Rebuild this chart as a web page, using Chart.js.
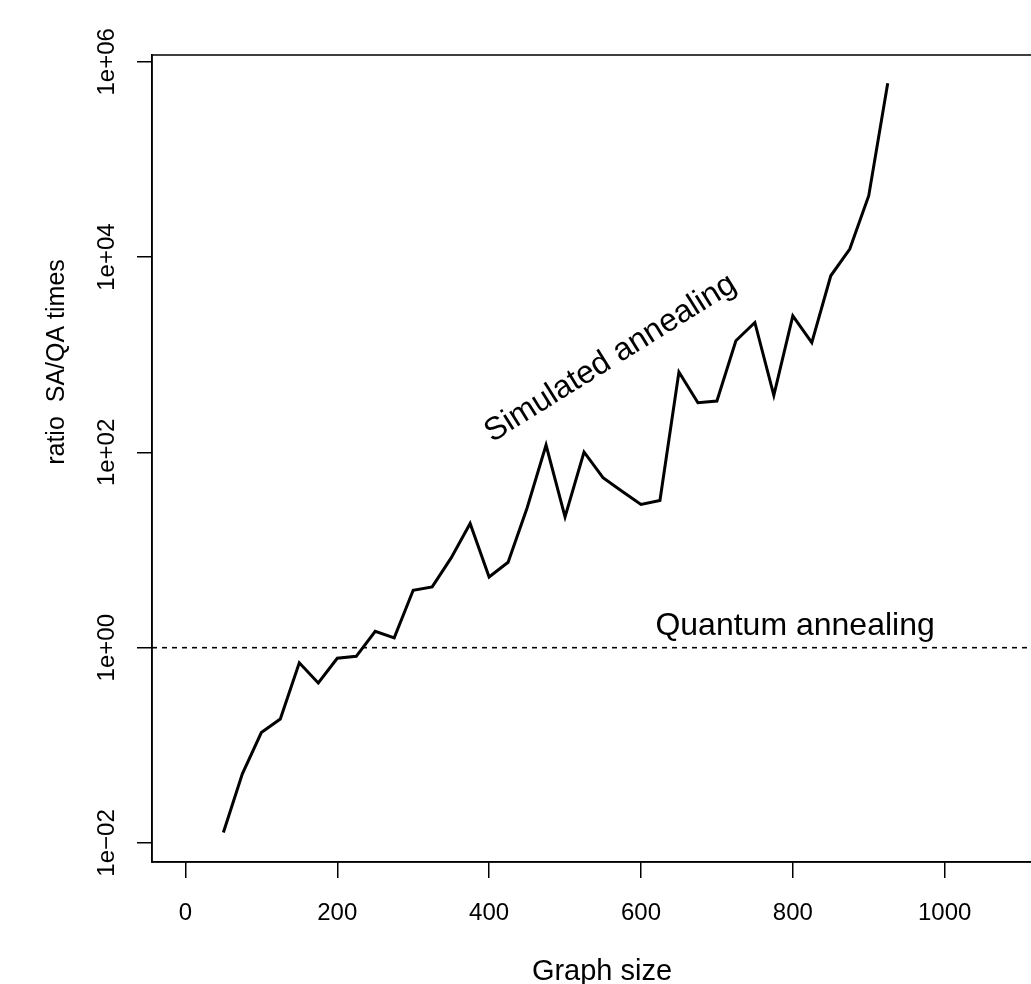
<!DOCTYPE html>
<html>
<head>
<meta charset="utf-8">
<script src="https://cdn.jsdelivr.net/npm/chart.js@4"></script>
<style>
    html, body { margin: 0; padding: 0; background: #fff; overflow: hidden; }
    #wrap { width: 1070px; height: 984px; }
</style>
</head>
<body>
<div id="wrap"><canvas id="ratioChart" width="1070" height="984"></canvas></div>
<script>
// graph size (x) and SA/QA time ratio (y)
const graphSize = [50, 75, 100, 125, 150, 175, 200, 225, 250, 275, 300, 325,
    350, 375, 400, 425, 450, 475, 500, 525, 550, 575, 600, 625,
    650, 675, 700, 725, 750, 775, 800, 825, 850, 875, 900, 925]
const saQaRatio = [0.0128, 0.051, 0.135, 0.186, 0.70, 0.435, 0.78, 0.815, 1.47, 1.26, 3.87, 4.19,
    8.3, 18.7, 5.3, 7.5, 27, 119, 21.9, 101, 55, 40, 29.3, 32.2,
    666, 323, 336, 1390, 2140, 384, 2500, 1334, 6440, 12080, 42600, 604000]

// quantum annealing reference level
const qaLevelX = [-44, 1144]
const qaLevelY = [1, 1]

const xTicks = [0, 200, 400, 600, 800, 1000]
const yTicks = [1e-2, 1e0, 1e2, 1e4, 1e6]

const xLimits = [-44, 1144]
const yLimits = [Math.pow(10, -2.195), Math.pow(10, 6.07)]

const fontFamily = '"Liberation Sans", Arial, Helvetica, sans-serif'

function sciLabel(v) {
    let e = Math.round(Math.log10(v))
    let sign = e < 0 ? '\u2212' : '+'
    let digits = String(Math.abs(e)).padStart(2, '0')
    return '1e' + sign + digits
}

const boxAndText = {
    id: 'boxAndText',
    afterDraw(chart) {
        const ctx = chart.ctx
        const area = chart.chartArea
        const xs = chart.scales.x
        const ys = chart.scales.y
        ctx.save()
        // plot box
        ctx.strokeStyle = '#000'
        ctx.lineWidth = 1.5
        ctx.strokeRect(area.left, area.top, area.right - area.left, area.bottom - area.top)

        ctx.fillStyle = '#000'
        // curve label
        ctx.save()
        ctx.font = '32px ' + fontFamily
        ctx.textAlign = 'center'
        ctx.textBaseline = 'alphabetic'
        ctx.translate(xs.getPixelForValue(566), ys.getPixelForValue(770))
        ctx.rotate(-32 * Math.PI / 180)
        ctx.fillText('Simulated annealing', 0, 0)
        ctx.restore()

        ctx.font = '32px ' + fontFamily
        ctx.textAlign = 'center'
        ctx.textBaseline = 'alphabetic'
        ctx.fillText('Quantum annealing', xs.getPixelForValue(803), ys.getPixelForValue(1.36))

        // axis titles
        ctx.font = '29px ' + fontFamily
        ctx.fillText('Graph size', 602, 980)

        ctx.save()
        ctx.font = '25px ' + fontFamily
        ctx.translate(64, 362)
        ctx.rotate(-Math.PI / 2)
        ctx.fillText('ratio  SA/QA times', 0, 0)
        ctx.restore()
        ctx.restore()
    }
}

const points = graphSize.map((g, i) => ({ x: g, y: saQaRatio[i] }))
const qaPoints = qaLevelX.map((g, i) => ({ x: g, y: qaLevelY[i] }))

const config = {
    type: 'line',
    data: {
        datasets: [{
            label: 'Simulated annealing',
            data: points,
            borderColor: '#000',
            borderWidth: 3,
            pointRadius: 0,
            tension: 0,
            fill: false
        }, {
            label: 'Quantum annealing',
            data: qaPoints,
            borderColor: '#000',
            borderWidth: 1.6,
            borderDash: [5, 5],
            pointRadius: 0,
            fill: false
        }]
    },
    options: {
        responsive: false,
        animation: false,
        layout: { padding: { top: 55, right: 16, left: 0, bottom: 0 } },
        plugins: { legend: { display: false }, tooltip: { enabled: false } },
        scales: {
            x: {
                type: 'linear',
                min: xLimits[0],
                max: xLimits[1],
                afterBuildTicks: s => { s.ticks = xTicks.map(v => ({ value: v })) },
                afterFit: s => { s.height = 122 },
                grid: { drawOnChartArea: false, drawTicks: true, tickLength: 16, color: '#000', lineWidth: 1.5 },
                border: { display: true, color: '#000', width: 1.5 },
                ticks: {
                    color: '#000',
                    font: { family: fontFamily, size: 24 },
                    padding: 21,
                    maxRotation: 0,
                    autoSkip: false,
                    callback: v => String(v)
                }
            },
            y: {
                type: 'logarithmic',
                min: yLimits[0],
                max: yLimits[1],
                afterBuildTicks: s => { s.ticks = yTicks.map(v => ({ value: v })) },
                afterFit: s => { s.width = 152 },
                grid: { drawOnChartArea: false, drawTicks: true, tickLength: 15, color: '#000', lineWidth: 1.5 },
                border: { display: true, color: '#000', width: 1.5 },
                ticks: {
                    color: '#000',
                    font: { family: fontFamily, size: 24 },
                    minRotation: 90,
                    maxRotation: 90,
                    crossAlign: 'center',
                    padding: -4,
                    autoSkip: false,
                    callback: v => sciLabel(v)
                }
            }
        }
    },
    plugins: [boxAndText]
}

new Chart(document.getElementById('ratioChart'), config)
</script>
</body>
</html>
